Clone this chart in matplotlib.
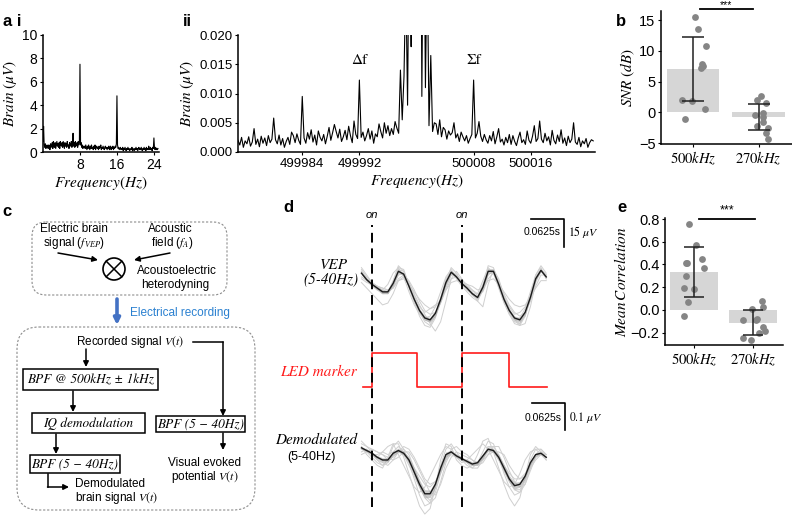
import numpy as np
import matplotlib
matplotlib.use('Agg')
import matplotlib.pyplot as plt
from matplotlib.patches import FancyBboxPatch, Rectangle, Circle

plt.rcParams['font.family'] = ['Liberation Sans', 'DejaVu Sans']
plt.rcParams['mathtext.fontset'] = 'stix'

W, H = 792, 522

# ---------------- data ----------------
# a i : brain spectrum 0-25 Hz, 0.125 Hz bins (uV)
ai_step = 0.125
ai_uv = [
    0.9, 2.2, 0.6, 0.4, 0.7, 0.3, 0.5, 0.6,
    0.4, 0.3, 0.6, 0.5, 0.2, 0.7, 0.4, 0.5,
    0.8, 0.3, 0.9, 0.5, 0.4, 0.8, 0.3, 0.6,
    0.9, 0.5, 0.7, 0.4, 0.8, 0.3, 0.9, 0.6,
    0.5, 0.8, 0.4, 0.9, 0.6, 0.3, 0.8, 0.5,
    0.7, 0.4, 0.9, 0.5, 0.6, 0.3, 0.8, 0.6,
    0.5, 0.9, 0.4, 0.7, 1.6, 0.5, 0.8, 0.4,
    0.9, 0.5, 0.7, 0.8, 0.4, 0.9, 0.6, 0.8,
    7.5, 0.6, 0.8, 0.4, 0.6, 0.3, 0.5, 0.4,
    0.5, 0.3, 0.6, 0.4, 0.2, 0.5, 0.3, 0.6,
    0.4, 0.2, 0.5, 0.3, 0.6, 0.3, 0.4, 0.2,
    0.5, 0.3, 0.6, 0.2, 0.4, 0.5, 0.3, 0.4,
    0.2, 0.5, 0.3, 0.4, 0.6, 0.2, 0.4, 0.3,
    0.5, 0.3, 0.2, 0.4, 0.5, 0.3, 0.4, 0.2,
    0.4, 0.3, 0.5, 0.2, 0.3, 0.5, 0.2, 0.4,
    0.3, 0.5, 0.2, 0.4, 0.3, 0.5, 0.4, 0.7,
    4.8, 0.6, 0.3, 0.4, 0.2, 0.3, 0.4, 0.2,
    0.3, 0.2, 0.4, 0.1, 0.3, 0.2, 0.4, 0.2,
    0.1, 0.3, 0.2, 0.4, 0.2, 0.3, 0.1, 0.2,
    0.3, 0.2, 0.4, 0.1, 0.3, 0.2, 0.1, 0.3,
    0.2, 0.4, 0.2, 0.3, 0.1, 0.3, 0.4, 0.2,
    0.3, 0.2, 0.4, 0.2, 0.1, 0.3, 0.2, 0.4,
    0.2, 0.3, 0.1, 0.4, 0.2, 0.3, 0.2, 0.5,
    0.3, 0.2, 0.4, 0.2, 0.3, 0.1, 0.4, 0.3,
    1.2, 0.3, 0.2, 0.4, 0.2, 0.3, 0.2, 0.3,
]

# a ii : spectrum around 500 kHz, 0.25 Hz bins, values in 1e-3 uV
aii_start = 499975
aii_step = 0.25
aii_nuv = [
    2.0, 1.2, 2.5, 0.8, 1.9, 1.4, 2.6, 1.0, 1.7, 4.0,
    1.3, 2.2, 0.9, 2.7, 1.5, 2.4, 1.1, 2.8, 1.6, 2.2,
    5.8, 2.1, 1.4, 2.9, 1.2, 2.3, 0.8, 1.8, 2.5, 1.3,
    3.4, 2.8, 1.6, 3.1, 2.0, 1.3, 9.5, 2.4, 1.5, 3.3,
    2.2, 3.8, 1.7, 2.9, 1.2, 3.6, 2.5, 1.9, 3.0, 1.4,
    2.7, 4.2, 2.0, 3.3, 4.7, 3.5, 2.4, 3.9, 1.8, 2.6,
    3.7, 2.1, 4.4, 2.8, 1.6, 5.3, 3.0, 2.3, 12.3, 2.5,
    3.4, 1.9, 2.8, 4.0, 2.2, 3.6, 1.5, 3.1, 2.6, 4.8,
    3.5, 2.4, 5.0, 3.2, 4.5, 2.8, 4.0, 3.0, 5.2, 4.1,
    3.2, 14.0, 5.5, 13.0, 30.0, 8.0, 45.0, 18.0, 60.0, 120.0,
    300.0, 150.0, 70.0, 9.5, 50.0, 11.0, 35.0, 4.5, 16.5, 3.5,
    5.0, 4.8, 3.0, 5.5, 2.6, 4.2, 3.8, 2.2, 3.6, 2.9,
    3.3, 5.0, 2.4, 3.1, 1.8, 3.4, 2.6, 1.9, 2.8, 1.5,
    2.3, 3.0, 12.3, 2.4, 3.2, 5.2, 2.7, 1.8, 3.0, 2.1,
    1.5, 2.8, 1.9, 3.5, 1.4, 2.6, 4.0, 1.7, 2.2, 1.2,
    2.5, 1.6, 3.0, 1.3, 2.8, 1.8, 1.1, 2.4, 3.4, 1.6,
    2.1, 1.3, 3.6, 2.0, 1.5, 2.7, 4.5, 1.8, 2.3, 5.3,
    2.2, 1.6, 3.2, 1.9, 2.6, 1.2, 3.7, 2.0, 1.4, 2.9,
    1.8, 3.8, 1.5, 2.4, 1.1, 2.7, 1.6, 2.2, 5.0, 1.7,
    1.3, 2.5, 0.9, 1.9, 1.4, 2.3, 0.8, 1.6, 2.1, 1.9,
]
aii_ticks = [499984, 499992, 500008, 500016]

# b / e : group statistics
groups = [r'$500kHz$', r'$270kHz$']
snr_mean = [7.0, -0.8]
snr_sd = [5.2, 2.1]
snr_500 = [15.5, 13.5, 10.8, 7.8, 7.6, 7.2, 2.0, 1.9, 0.6, -1.0]
snr_500_jit = [0.03, 0.08, 0.20, 0.14, 0.15, 0.12, -0.17, -0.02, 0.18, -0.12]
snr_270 = [2.6, 2.0, 1.5, -0.4, -0.1, -0.8, -1.6, -2.2, -2.5, -3.3, -4.3]
snr_270_jit = [0.03, -0.02, 0.12, -0.05, 0.06, 0.06, 0.06, -0.03, 0.15, 0.12, 0.14]

corr_mean = [0.335, -0.115]
corr_sd = [0.22, 0.11]
corr_500 = [0.76, 0.57, 0.45, 0.415, 0.41, 0.37, 0.30, 0.19, 0.18, 0.065, -0.055]
corr_500_jit = [-0.08, 0.03, 0.14, -0.12, -0.14, 0.17, -0.14, -0.17, 0.0, -0.10, -0.17]
corr_270 = [0.075, 0.025, 0.005, -0.09, -0.08, -0.09, -0.155, -0.2, -0.19, -0.25, -0.27]
corr_270_jit = [0.15, 0.17, -0.02, -0.17, 0.07, 0.05, 0.17, 0.10, 0.20, -0.17, -0.03]

# d : trial-averaged traces, t in s (onsets at 0 and 0.17 s)
t_trace = np.linspace(-0.02, 0.33, 36)
onsets = [0.0, 0.17]
vep_mean = [9, 5.5, 3, 1, -1, -1, 3.5, 10, 8.5, 2, -5, -11, -15, -16, -12.5, -5, 4, 9.5,
            7, 3.5, 1, -2, -4, 1.5, 10, 10, 3, -5, -11, -15, -16, -12, -4, 6, 10.5, 7]
vep_trials = [
    [11, 7, 4, 1, -2, -2, 4, 12, 11, 3, -6, -14, -19, -20, -15, -6, 5, 12, 9, 4, 1, -3, -5, 2, 13, 12, 4, -6, -13, -18, -19, -14, -4, 8, 13, 9],
    [7, 5, 3, 2, 0, -1, 1, 6, 8, 5, 0, -6, -11, -13, -12, -7, 0, 6, 7, 4, 2, 0, -2, -1, 6, 9, 5, -2, -8, -12, -14, -12, -6, 2, 8, 8],
    [4, 1, -2, -5, -8, -7, -2, 5, 7, 4, -2, -8, -13, -18, -22, -17, -6, 6, 10, 6, 2, -1, -6, -9, 3, 11, 6, -3, -10, -16, -19, -18, -9, 4, 11, 8],
    [10, 5, 2, 0, 0, 3, 9, 12, 7, -1, -8, -13, -15, -14, -9, -1, 7, 11, 7, 3, 0, -2, -2, 5, 12, 9, 1, -7, -13, -16, -15, -10, -1, 8, 12, 6],
    [9, 6, 4, 2, 1, 0, 2, 8, 9, 4, -3, -9, -12, -10, -8, -6, 1, 8, 8, 5, 3, 0, -3, 0, 8, 10, 4, -4, -9, -13, -12, -9, -3, 5, 10, 8],
    [12, 8, 4, 2, -1, -2, 2, 11, 10, 2, -5, -12, -17, -19, -14, -4, 6, 10, 6, 2, -1, -4, -6, 0, 11, 11, 2, -6, -12, -16, -18, -14, -5, 6, 11, 6],
    [6, 4, 3, 2, 1, 0, 1, 5, 6, 3, -1, -5, -8, -10, -9, -5, 0, 4, 5, 4, 3, 2, 0, 1, 5, 6, 3, -1, -5, -8, -9, -8, -4, 1, 5, 5],
    [10, 6, 3, 0, -2, -1, 5, 13, 10, 1, -7, -12, -16, -17, -13, -6, 3, 10, 8, 3, 0, -2, -4, 3, 11, 10, 3, -6, -12, -17, -18, -13, -3, 7, 11, 8],
]
demod_mean = [0.045, 0.035, 0.025, 0.01, 0.0, 0.0, 0.025, 0.035, 0.025, 0.0, -0.045, -0.09,
              -0.125, -0.125, -0.09, -0.03, 0.02, 0.03, 0.015, 0.005, -0.005, -0.015, -0.01, 0.015,
              0.04, 0.035, 0.01, -0.03, -0.07, -0.095, -0.09, -0.06, -0.01, 0.02, 0.025, 0.01]
demod_trials = [
    [0.07, 0.05, 0.03, 0.0, -0.02, 0.0, 0.05, 0.07, 0.04, -0.01, -0.07, -0.13, -0.17, -0.16, -0.1, -0.02, 0.04, 0.06, 0.03, 0.0, -0.02, -0.03, -0.01, 0.03, 0.07, 0.06, 0.01, -0.05, -0.1, -0.13, -0.12, -0.07, 0.0, 0.04, 0.04, 0.02],
    [0.02, 0.03, 0.04, 0.03, 0.02, 0.01, 0.0, 0.01, 0.03, 0.03, 0.0, -0.04, -0.08, -0.12, -0.13, -0.09, -0.03, 0.01, 0.03, 0.02, 0.01, 0.0, -0.02, -0.01, 0.02, 0.05, 0.05, 0.01, -0.04, -0.08, -0.1, -0.09, -0.04, 0.01, 0.03, 0.02],
    [0.05, 0.02, 0.0, -0.02, -0.03, 0.01, 0.06, 0.06, 0.01, -0.05, -0.11, -0.17, -0.2, -0.18, -0.1, 0.0, 0.06, 0.05, 0.0, -0.02, -0.03, -0.02, 0.02, 0.07, 0.08, 0.03, -0.03, -0.09, -0.14, -0.17, -0.14, -0.06, 0.02, 0.05, 0.03, 0.0],
    [0.06, 0.05, 0.04, 0.03, 0.02, 0.0, 0.01, 0.03, 0.05, 0.04, 0.01, -0.03, -0.07, -0.09, -0.08, -0.05, 0.0, 0.04, 0.05, 0.03, 0.02, 0.0, -0.01, 0.0, 0.02, 0.03, 0.03, 0.02, -0.02, -0.05, -0.07, -0.06, -0.03, 0.0, 0.02, 0.02],
    [0.03, 0.04, 0.02, 0.01, 0.03, 0.05, 0.06, 0.02, -0.02, -0.06, -0.1, -0.12, -0.1, -0.06, -0.02, 0.02, 0.05, 0.04, 0.01, -0.01, 0.0, 0.02, 0.04, 0.06, 0.04, 0.0, -0.04, -0.08, -0.1, -0.09, -0.05, 0.0, 0.03, 0.04, 0.02, 0.0],
    [0.04, 0.04, 0.02, 0.0, -0.01, -0.02, 0.0, 0.03, 0.04, 0.02, -0.03, -0.08, -0.13, -0.15, -0.12, -0.05, 0.01, 0.03, 0.02, 0.01, -0.01, -0.03, -0.03, 0.0, 0.05, 0.05, 0.02, -0.02, -0.07, -0.11, -0.11, -0.08, -0.02, 0.02, 0.03, 0.01],
    [0.05, 0.03, 0.02, 0.02, 0.03, 0.02, 0.03, 0.05, 0.03, 0.0, -0.03, -0.06, -0.09, -0.1, -0.08, -0.04, 0.0, 0.02, 0.01, 0.0, 0.0, -0.01, -0.02, 0.01, 0.04, 0.03, 0.0, -0.02, -0.05, -0.07, -0.07, -0.05, -0.02, 0.01, 0.02, 0.01],
    [0.04, 0.03, 0.01, -0.01, -0.02, -0.01, 0.02, 0.04, 0.02, -0.02, -0.06, -0.1, -0.14, -0.16, -0.14, -0.08, -0.01, 0.03, 0.02, 0.0, -0.01, -0.02, -0.02, 0.01, 0.05, 0.04, 0.0, -0.04, -0.08, -0.11, -0.12, -0.09, -0.03, 0.02, 0.04, 0.02],
]
led_t = [-0.017, 0.0, 0.085, 0.17, 0.259, 0.331]
led_v = [0, 1, 0, 1, 0, 0]


# ---------------- helpers ----------------
def rect(x0, y0, x1, y1):
    # pixel box (top-left origin) -> figure fraction
    return [x0 / W, 1 - y1 / H, (x1 - x0) / W, (y1 - y0) / H]


def style(ax, size=9.5):
    for s in ['top', 'right']:
        ax.spines[s].set_visible(False)
    for s in ['left', 'bottom']:
        ax.spines[s].set_linewidth(1.1)
    ax.tick_params(length=2.5, width=0.8, labelsize=size, pad=1.5)


def letter(x, y, s):
    fig.text(x / W, 1 - y / H, s, fontsize=12, fontweight='bold', ha='left', va='center')


fig = plt.figure(figsize=(7.92, 5.22), dpi=100)

# ---------------- a i ----------------
ax = fig.add_axes(rect(43, 35, 159, 152))
f_ai = np.arange(len(ai_uv)) * ai_step
ax.plot(f_ai, ai_uv, color='k', lw=0.8)
ax.set_xlim(0, 25.1)
ax.set_ylim(0, 10)
ax.set_xticks([8, 16, 24])
ax.set_yticks(range(0, 11, 2))
style(ax, 10)
ax.set_ylabel(r'$Brain\ (\mu V)$', fontsize=11, labelpad=2)
ax.set_xlabel(r'$Frequency(Hz)$', fontsize=11, labelpad=2)

# ---------------- a ii ----------------
ax = fig.add_axes(rect(238, 35, 595, 152))
f_aii = aii_start + np.arange(len(aii_nuv)) * aii_step
ax.plot(f_aii, np.array(aii_nuv) / 1000.0, color='k', lw=0.8)
ax.set_xlim(499975, 500025)
ax.set_ylim(0, 0.02)
ax.set_xticks(aii_ticks)
ax.set_xticklabels([str(v) for v in aii_ticks])
ax.set_yticks([0, 0.005, 0.01, 0.015, 0.02])
ax.set_yticklabels(['0.000', '0.005', '0.010', '0.015', '0.020'])
style(ax)
ax.set_ylabel(r'$Brain\ (\mu V)$', fontsize=11, labelpad=2)
ax.set_xlabel(r'$Frequency(Hz)$', fontsize=11, labelpad=2)
ax.text(499992, 0.0145, 'Δf', ha='center', va='bottom', fontsize=11, family='STIXGeneral')
ax.text(500008, 0.0145, 'Σf', ha='center', va='bottom', fontsize=11, family='STIXGeneral')


# ---------------- b / e ----------------
def group_plot(ax, means, sds, pts, jits, cap):
    x = np.arange(len(means))
    ax.bar(x, means, width=0.8, color='#d6d6d6', zorder=1)
    for i in range(len(means)):
        ax.scatter(i + np.array(jits[i]), pts[i], s=24, color='#858585', zorder=2, lw=0)
    ax.errorbar(x, means, yerr=sds, fmt='none', ecolor='#202020', elinewidth=1.1,
                capsize=cap, capthick=1.1, zorder=3)
    ax.set_xlim(-0.49, 1.51)
    ax.set_xticks(x)
    ax.set_xticklabels(groups, fontsize=11.5)
    style(ax, 10.5)


ax = fig.add_axes(rect(661, 11, 792, 143.7))
group_plot(ax, snr_mean, snr_sd, [snr_500, snr_270], [snr_500_jit, snr_270_jit], 8)
ax.set_ylim(-5.1, 16.5)
ax.set_yticks([-5, 0, 5, 10, 15])
ax.set_ylabel(r'$SNR\ (dB)$', fontsize=11, labelpad=1)
tr = ax.get_xaxis_transform()
ax.plot([0.1, 0.92], [1.017, 1.017], color='k', lw=1.3, transform=tr, clip_on=False)
# significance stars sit just above the bar (half hidden at the top edge in the source)
fig.text(726 / W, 1 - 5.5 / H, '***', ha='center', va='center', fontsize=7.5)

ax = fig.add_axes(rect(665, 218, 783, 345))
group_plot(ax, corr_mean, corr_sd, [corr_500, corr_270], [corr_500_jit, corr_270_jit], 7)
ax.set_ylim(-0.31, 0.81)
ax.set_yticks([-0.2, 0.0, 0.2, 0.4, 0.6, 0.8])
ax.set_yticklabels(['−0.2', '0.0', '0.2', '0.4', '0.6', '0.8'])
ax.set_ylabel(r'$Mean\,Correlation$', fontsize=11, labelpad=1)
ax.plot([0.085, 1.03], [0.8, 0.8], color='k', lw=1.3, clip_on=False)
ax.text(0.56, 0.82, '***', ha='center', va='bottom', fontsize=9)

# ---------------- c : processing diagram (pixel units) ----------------
axc = fig.add_axes(rect(0, 170, 300, 522))
axc.set_xlim(0, 300)
axc.set_ylim(522, 170)
axc.axis('off')


def arrow(x0, y0, x1, y1, color='k', lw=1.1, ms=8):
    axc.annotate('', xy=(x1, y1), xytext=(x0, y0),
                 arrowprops=dict(arrowstyle='-|>', color=color, lw=lw,
                                 mutation_scale=ms, shrinkA=0, shrinkB=0))


def frame(x0, y0, x1, y1, txt):
    axc.add_patch(Rectangle((x0, y0), x1 - x0, y1 - y0, fill=False, lw=1.1, ec='k'))
    axc.text((x0 + x1) / 2, (y0 + y1) / 2 + 0.5, txt, ha='center', va='center',
             fontsize=9.5, family='STIXGeneral', style='italic')


def note(x, y, s, ha='center'):
    axc.text(x, y, s, ha=ha, va='center', fontsize=8.5)


dash = (0, (2, 1.6))
axc.add_patch(FancyBboxPatch((32, 222), 195, 73, boxstyle='round,pad=0,rounding_size=14',
                             fill=False, ls=dash, lw=0.8, ec='#8c8c8c'))
axc.add_patch(FancyBboxPatch((17, 327), 238, 183, boxstyle='round,pad=0,rounding_size=22',
                             fill=False, ls=dash, lw=0.8, ec='#8c8c8c'))

note(74, 229, 'Electric brain')
note(74, 243, r'signal ($\mathit{f_{VEP}}$)')
note(170, 229, 'Acoustic')
note(172, 243, r'field ($f_A$)')
axc.add_patch(Circle((114, 269), 11, fill=False, lw=1.2))
axc.plot([106.2, 121.8], [261.2, 276.8], color='k', lw=1.1)
axc.plot([106.2, 121.8], [276.8, 261.2], color='k', lw=1.1)
arrow(58, 253, 98, 260)
arrow(170, 253, 134, 260)
note(177, 271, 'Acoustoelectric')
note(175, 285, 'heterodyning')

arrow(117, 299, 117, 325, color='#4472c4', lw=2.6, ms=9)
axc.text(130, 313, 'Electrical recording', ha='left', va='center', fontsize=8.5, color='#2a80d0')

note(130, 342, r'Recorded signal $V(t)$')
arrow(86, 349, 86, 367)
axc.plot([193, 223], [342, 342], color='k', lw=1.1)
arrow(223, 342, 223, 416)
frame(23, 369, 158, 390, 'BPF @ 500kHz ± 1kHz')
arrow(73, 391, 73, 412)
frame(32, 413, 145, 433, 'IQ demodulation')
frame(156, 416, 245, 432, 'BPF (5 − 40Hz)')
arrow(56, 434, 56, 454)
frame(30, 455, 120, 473, 'BPF (5 − 40Hz)')
arrow(223, 433, 223, 450)
note(205, 463, 'Visual evoked')
note(205, 477, r'potential $V(t)$')
axc.plot([48, 48], [474, 487], color='k', lw=1.1)
arrow(47.5, 487, 69, 487)
note(75, 484, 'Demodulated', ha='left')
note(75, 498, r'brain signal $V(t)$', ha='left')

# ---------------- d : traces ----------------
xl = (-0.0322, 0.4129)


def traces(ax, mean, trials):
    tri = np.array(trials, dtype=float)
    for row in tri:
        ax.plot(t_trace, row, color='#cfcfcf', lw=0.7, zorder=1)
    sem = tri.std(0) / np.sqrt(len(tri))
    m = np.array(mean, dtype=float)
    ax.fill_between(t_trace, m - sem, m + sem, color='#a8a8a8', alpha=0.6, lw=0, zorder=2)
    ax.plot(t_trace, m, color='#1a1a1a', lw=1.0, zorder=3)
    ax.set_xlim(*xl)
    ax.axis('off')


def scalebar(ax, x1, ytop, ybot, ytxt, lab):
    ax.plot([x1 - 0.0625, x1, x1], [ytop, ytop, ybot], color='k', lw=1.2, clip_on=False)
    ax.text(x1 - 0.006, ytxt, '0.0625s', ha='right', va='center', fontsize=7.5)
    ax.text(x1 + 0.008, ytxt, lab, ha='left', va='center', fontsize=8.5, family='STIXGeneral')


axv = fig.add_axes(rect(355, 205, 590, 335))
traces(axv, vep_mean, vep_trials)
axv.set_ylim(-24.1, 45.5)
scalebar(axv, 0.363, 38, 23, 31, r'15 $\mu V$')

axl = fig.add_axes(rect(355, 340, 590, 400))
axl.step(led_t, led_v, where='post', color='#ff1a1a', lw=1.2)
axl.set_xlim(*xl)
axl.set_ylim(-0.38, 1.38)
axl.axis('off')

axm = fig.add_axes(rect(355, 400, 590, 520))
traces(axm, demod_mean, demod_trials)
axm.set_ylim(-0.222, 0.222)
scalebar(axm, 0.365, 0.211, 0.111, 0.156, r'0.1 $\mu V$')

axo = fig.add_axes(rect(355, 205, 590, 515))
axo.set_xlim(*xl)
axo.set_ylim(0, 1)
axo.axis('off')
for t0 in onsets:
    axo.axvline(t0, ymin=0.026, ymax=0.935, color='k', lw=1.4, ls=(0, (5, 3)))
    axo.text(t0, 0.968, 'on', ha='center', va='center', fontsize=8, style='italic')

ser = dict(family='STIXGeneral', style='italic', fontsize=11, va='center')
fig.text(334 / W, 1 - 265 / H, 'VEP', ha='center', **ser)
fig.text(331 / W, 1 - 279 / H, '(5-40Hz)', ha='center', **ser)
fig.text(357 / W, 1 - 372 / H, 'LED marker', ha='right', color='#ff1a1a', **ser)
fig.text(357 / W, 1 - 440 / H, 'Demodulated', ha='right', **ser)
fig.text(311 / W, 1 - 457 / H, '(5-40Hz)', ha='center', va='center', fontsize=9)

# panel letters
letter(3, 22, 'a i')
letter(183, 22, 'ii')
letter(616, 22, 'b')
letter(2, 211, 'c')
letter(283, 208, 'd')
letter(617, 208, 'e')

fig.savefig('out.png', dpi=100)
